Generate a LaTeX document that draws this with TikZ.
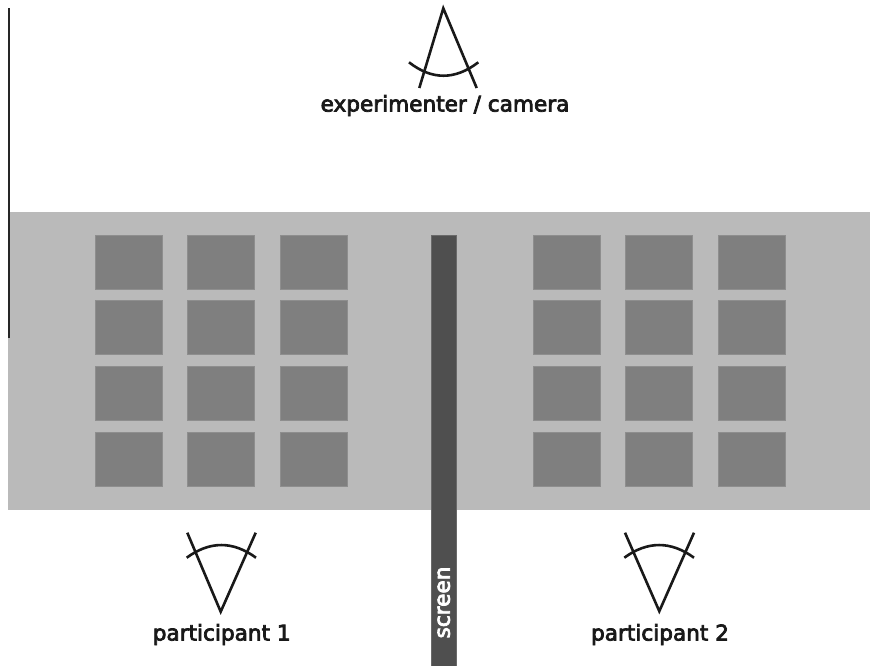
\documentclass[tikz,border=0pt]{standalone}
\usepackage{fontspec}
\setmainfont{DejaVu Sans}
\newfontfamily\lblfont{DejaVu Sans}[FakeBold=3.5]
\begin{document}
\begin{tikzpicture}[x=1pt,y=-1pt,
  band/.style={fill=bandgray},
  tile/.style={fill=tilegray,draw=tileedge,line width=0.8pt},
  screenbar/.style={fill=screengray,draw=screenedge,line width=0.8pt},
  eyeline/.style={draw=black!90,line width=2.6pt,line cap=butt},
  lbl/.style={font=\lblfont\fontsize{21.6}{26}\selectfont,text=black!90,inner sep=0pt,anchor=base},
  scrlbl/.style={font=\lblfont\fontsize{21.6}{26}\selectfont,text=white,inner sep=0pt,rotate=90}]
\definecolor{bandgray}{HTML}{BABABA}
\definecolor{tilegray}{HTML}{7F7F7F}
\definecolor{tileedge}{HTML}{8E8E8E}
\definecolor{screengray}{HTML}{4F4F4F}
\definecolor{screenedge}{HTML}{6A6A6A}
\useasboundingbox (0,0) rectangle (870,665);
\fill[white] (0,0) rectangle (870,665);
% band
\fill[band] (8,212) rectangle (870,509.5);
% left vertical line
\draw[line width=1.4pt,draw=black!85] (9,8) -- (9,338);
% tiles
\foreach \cx in {95.3,187.7,280,533.3,625.7,718}{
  \foreach \ry in {235,300.7,366.4,432}{
    \filldraw[tile] (\cx,\ry) rectangle ++(67,54);
  }
}
% screen
\filldraw[screenbar] (431,235) rectangle (456,666);
\node[scrlbl] (screenlbl) at (443.8,602.5) {screen};
% experimenter eye
\draw[eyeline] (419.3,88) -- (443.3,8.3) -- (476.7,88);
\draw[eyeline] (409,62.3) .. controls (432,80.2) and (455,80.2) .. (478.3,62.3);
\node[lbl] (exp) at (445,111.5) {experimenter / camera};
% participant 1 eye
\draw[eyeline] (187.3,532.7) -- (220.7,611.7) -- (255.7,532.7);
\draw[eyeline] (186.7,557.7) .. controls (209.8,540.8) and (232.9,540.8) .. (256,557.7);
\node[lbl] (p1) at (221.7,640.5) {participant 1};
% participant 2 eye
\draw[eyeline] (625,532.7) -- (659.3,611.2) -- (694,532.7);
\draw[eyeline] (624.3,557.7) .. controls (647.5,540.8) and (670.8,540.8) .. (694,557.7);
\node[lbl] (p2) at (660,640.5) {participant 2};
\end{tikzpicture}
\end{document}
